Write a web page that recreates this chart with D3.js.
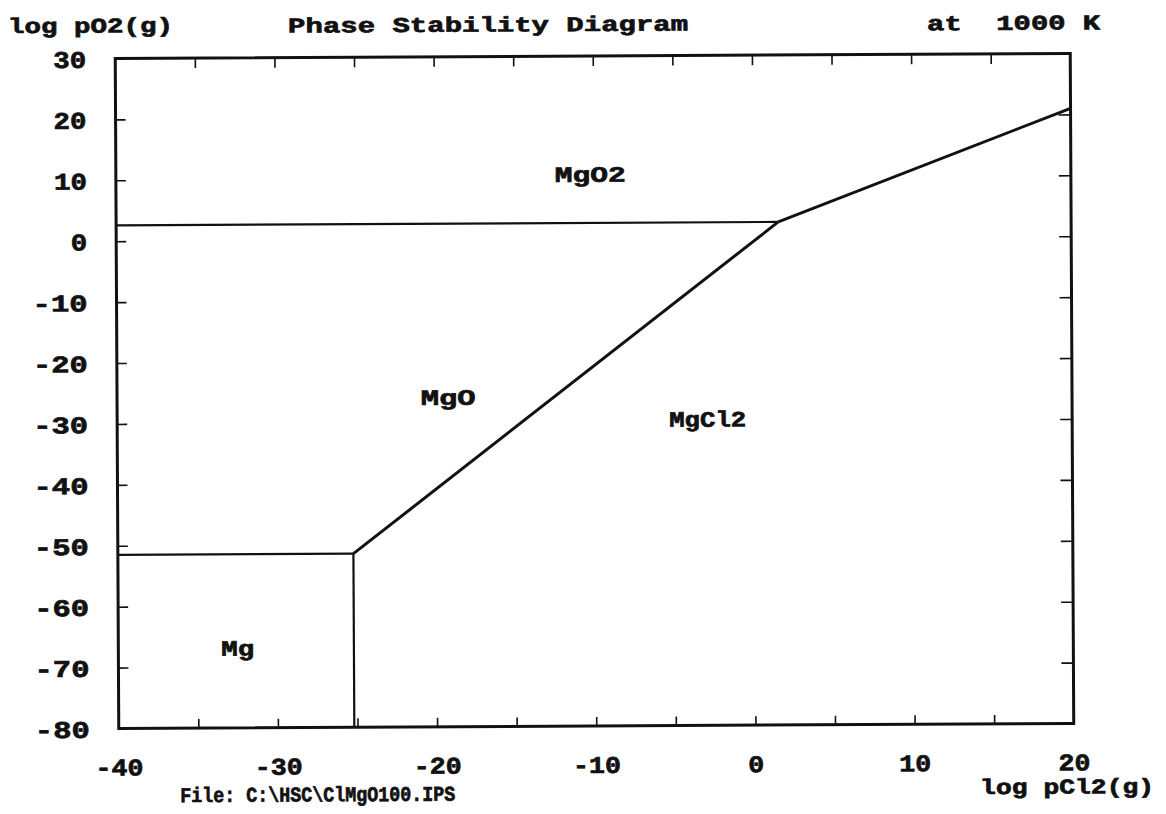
<!DOCTYPE html>
<html>
<head>
<meta charset="utf-8">
<script src="https://cdn.jsdelivr.net/npm/d3@7"></script>
<style>
  html, body { margin: 0; padding: 0; background: #fff; }
  svg { display: block; }
  text { font-family: "Liberation Mono", "Courier New", monospace; font-weight: bold; fill: #111; stroke: #111; stroke-width: 0.7; white-space: pre; }
</style>
</head>
<body>
<svg id="chart" width="1166" height="814"></svg>
<script>
// Axis domains and tick values
const xDomain = [-40, 20];
const yDomain = [-80, 30];
const xTickLabels = [-40, -30, -20, -10, 0, 10, 20];
const yTickLabels = [30, 20, 10, 0, -10, -20, -30, -40, -50, -60, -70, -80];
const xTickMarks = [-35, -30, -25, -20, -15, -10, -5, 0, 5, 10, 15];
const yTickMarks = [20, 10, 0, -10, -20, -30, -40, -50, -60, -70];

// Invariant points of the Cl-Mg-O system at 1000 K (log pCl2, log pO2)
const pointMgMgOMgCl2 = [-25.2, -51.5];
const pointMgOMgO2MgCl2 = [1.6, 2.6];

// Phase boundary lines
const boundaryMgMgO = [[-40, -51.5], pointMgMgOMgCl2];
const boundaryMgMgCl2 = [pointMgMgOMgCl2, [-25.2, -80]];
const boundaryMgOMgCl2 = [pointMgMgOMgCl2, pointMgOMgO2MgCl2];
const boundaryMgOMgO2 = [[-40, 2.6], pointMgOMgO2MgCl2];
const boundaryMgO2MgCl2 = [pointMgOMgO2MgCl2, [20, 21]];
const boundaries = [boundaryMgMgO, boundaryMgMgCl2, boundaryMgOMgCl2, boundaryMgOMgO2, boundaryMgO2MgCl2];

// Stable phase names and their label positions
const phaseNames = ["MgO2", "MgO", "MgCl2", "Mg"];
const phaseLabelX = [-10.2, -19.2, -2.9, -32.5];
const phaseLabelY = [10.5, -26.0, -29.8, -67.0];

const svg = d3.select("#chart");
const plotLeft = 117, plotRight = 1072, plotTop = 56, plotBottom = 726;

const x = d3.scaleLinear().domain(xDomain).range([plotLeft, plotRight]);
const y = d3.scaleLinear().domain(yDomain).range([plotBottom, plotTop]);

// The whole plot sits slightly tilted
const root = svg.append("g").attr("transform", "rotate(-0.3, 594, 391)");

// Helper for stretched text of a given width
function label(g, str, px, py, size, width, anchor) {
  return g.append("text")
    .attr("x", px).attr("y", py)
    .attr("font-size", size)
    .attr("text-anchor", anchor || "start")
    .attr("textLength", width)
    .attr("lengthAdjust", "spacingAndGlyphs")
    .text(str);
}

// Width of a numeric tick label
const numWidth = (d, digit, minus) => String(Math.abs(d)).length * digit + (d < 0 ? minus : 0);

// Tick marks, pointing inwards on all four sides
const tickStyle = g => g.call(s => s.select(".domain").remove())
  .call(s => s.selectAll(".tick line").attr("stroke", "#111").attr("stroke-width", 1.6));

root.append("g").attr("transform", `translate(0,${plotBottom})`)
  .call(d3.axisBottom(x).tickValues(xTickMarks).tickSize(-9).tickFormat(""))
  .call(tickStyle);
root.append("g").attr("transform", `translate(0,${plotTop})`)
  .call(d3.axisTop(x).tickValues(xTickMarks).tickSize(-10).tickFormat(""))
  .call(tickStyle);
root.append("g").attr("transform", `translate(${plotLeft},0)`)
  .call(d3.axisLeft(y).tickValues(yTickMarks).tickSize(-10).tickFormat(""))
  .call(tickStyle);
root.append("g").attr("transform", `translate(${plotRight},0)`)
  .call(d3.axisRight(y).tickValues(yTickMarks).tickSize(-12).tickFormat(""))
  .call(tickStyle);

// Tick labels
const xLab = root.append("g").attr("transform", `translate(0,${plotBottom})`)
  .call(d3.axisBottom(x).tickValues(xTickLabels).tickSize(0).tickPadding(0).tickFormat(d => String(d)));
xLab.select(".domain").remove();
xLab.selectAll(".tick text")
  .attr("y", 47).attr("dy", null)
  .attr("font-family", null).attr("font-size", 24)
  .attr("fill", "#111")
  .attr("textLength", d => numWidth(d, 16, 16))
  .attr("lengthAdjust", "spacingAndGlyphs");

const yLab = root.append("g").attr("transform", `translate(${plotLeft},0)`)
  .call(d3.axisLeft(y).tickValues(yTickLabels).tickSize(0).tickPadding(29).tickFormat(d => String(d)));
yLab.select(".domain").remove();
yLab.selectAll(".tick text")
  .attr("dy", "0.36em")
  .attr("font-family", null).attr("font-size", 24)
  .attr("fill", "#111")
  .attr("textLength", d => numWidth(d, 16.5, 22))
  .attr("lengthAdjust", "spacingAndGlyphs");

// Phase boundaries
const line = d3.line().x(d => x(d[0])).y(d => y(d[1]));
root.append("g").selectAll("path").data(boundaries).join("path")
  .attr("d", line)
  .attr("fill", "none")
  .attr("stroke", "#111")
  .attr("stroke-width", (d, i) => (i === 2 || i === 4) ? 3 : 2.2)
  .attr("stroke-linecap", "butt");

// Frame
root.append("rect")
  .attr("x", plotLeft).attr("y", plotTop)
  .attr("width", plotRight - plotLeft).attr("height", plotBottom - plotTop)
  .attr("fill", "none").attr("stroke", "#111").attr("stroke-width", 3);

// Phase labels
const phaseWidths = [71, 55, 77, 33];
phaseNames.forEach((name, i) => {
  label(root, name, x(phaseLabelX[i]), y(phaseLabelY[i]) + 7, 22, phaseWidths[i], "middle");
});

// Titles and captions
label(root, "log pO2(g)", 10, 30, 21, 165);
label(root, "Phase Stability Diagram", 290, 31, 21, 400);
label(root, "at  1000 K", 929, 32, 21, 173);
label(root, "File: C:\\HSC\\ClMgO100.IPS", 178, 800, 21, 275);
label(root, "log pCl2(g)", 978, 796, 21, 174);
</script>
</body>
</html>
